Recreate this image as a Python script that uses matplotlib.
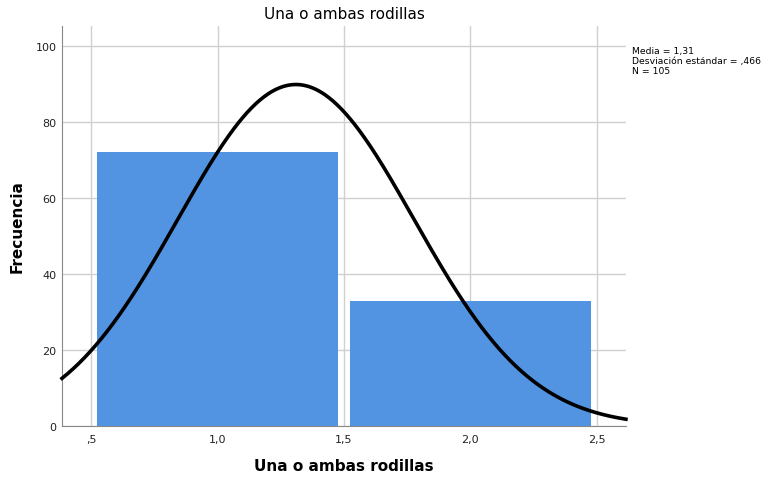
import numpy as np
import matplotlib.pyplot as plt

bin_centers = [1.0, 2.0]
counts = [72, 33]
mean = 1.31
std = 0.466
n = 105
x_ticks = [0.5, 1.0, 1.5, 2.0, 2.5]
x_tick_labels = [",5", "1,0", "1,5", "2,0", "2,5"]
y_ticks = [0, 20, 40, 60, 80, 100]

fig = plt.figure(figsize=(7.68, 4.81), dpi=100)
ax = fig.add_axes([0.0807, 0.1123, 0.7343, 0.8316])

ax.bar(bin_centers, counts, width=0.95, color="#5294e2", zorder=2)

# normal curve scaled to counts (bin width = 1)
xs = np.linspace(0.385, 2.615, 400)
pdf = n * 1.0 / (std * np.sqrt(2 * np.pi)) * np.exp(-0.5 * ((xs - mean) / std) ** 2)
ax.plot(xs, pdf, color="black", lw=2.6, zorder=3, clip_on=False)

ax.set_xlim(0.385, 2.615)
ax.set_ylim(0, 105.3)
ax.set_xticks(x_ticks)
ax.set_xticklabels(x_tick_labels)
ax.set_yticks(y_ticks)
ax.grid(True, color="#d0d0d0", lw=1.0, zorder=0)
ax.set_axisbelow(True)
for s in ["top", "right"]:
    ax.spines[s].set_visible(False)
for s in ["left", "bottom"]:
    ax.spines[s].set_color("#888888")
ax.tick_params(axis="x", length=0, labelsize=8, colors="#222222", pad=6)
ax.tick_params(axis="y", length=0, labelsize=8, colors="#222222", pad=4)

ax.set_title("Una o ambas rodillas", fontsize=11, fontweight="medium", pad=6)
ax.set_xlabel("Una o ambas rodillas", fontsize=11, fontweight="bold", labelpad=10)
ax.set_ylabel("Frecuencia", fontsize=11, fontweight="bold", labelpad=8)

fig.text(0.823, 0.902, "Media = 1,31\nDesviación estándar = ,466\nN = 105",
         fontsize=6.7, va="top", ha="left", linespacing=1.15)

fig.savefig("out.png", dpi=100)
